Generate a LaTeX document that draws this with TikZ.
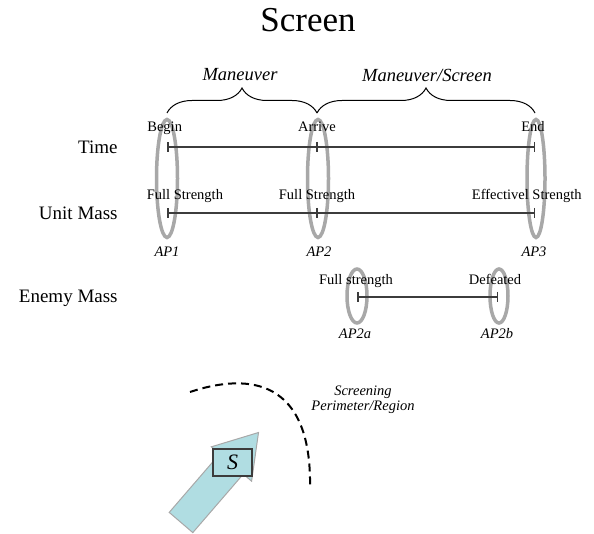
\documentclass[tikz,border=0pt]{standalone}
\usepackage{fontspec}
\setmainfont{Liberation Serif}
\usetikzlibrary{arrows.meta,decorations.pathreplacing}

\definecolor{apgray}{RGB}{168,168,168}
\definecolor{linegray}{RGB}{60,60,60}
\definecolor{arrowcyan}{RGB}{176,221,226}

\tikzset{
  every picture/.style={line width=0.75pt},
  rowlabel/.style={anchor=east,inner sep=0pt,font=\fontsize{19}{21}\selectfont},
  eventlabel/.style={anchor=base,inner sep=0pt,font=\fontsize{14.5}{16}\selectfont},
  aplabel/.style={anchor=base,inner sep=0pt,font=\fontsize{14.5}{16}\selectfont\itshape},
  phaselabel/.style={inner sep=0pt,font=\fontsize{18.5}{20}\selectfont\itshape},
  timeline/.style={line width=1.5pt,draw=linegray,{Bar[width=10pt,line width=1.5pt]}-{Bar[width=10pt,line width=1.5pt]}},
  midtick/.style={line width=1.5pt,draw=linegray},
  apring/.style={draw=apgray,line width=3.5pt},
  phasebrace/.style={decorate,decoration={brace,amplitude=25pt},line width=1pt},
}

\begin{document}
\begin{tikzpicture}[x=1pt,y=1pt,yscale=-1]
\useasboundingbox (0,0) rectangle (594,534);

% Title
\node (title) at (308,20) {\fontsize{35}{38}\selectfont Screen};

% Row labels
\node[rowlabel] (time) at (118,147) {Time};
\node[rowlabel] (unitmass) at (118,213) {Unit Mass};
\node[rowlabel] (enemymass) at (118,298) {Enemy Mass};

% Points on the time line and unit mass line
\coordinate (t1) at (167,147);
\coordinate (t2) at (317,147);
\coordinate (t3) at (535,147);
\coordinate (u1) at (167,213);
\coordinate (u2) at (317,213);
\coordinate (u3) at (535,213);
\coordinate (e1) at (357,297);
\coordinate (e2) at (498,297);

% Aimpoint rings
\draw[apring] (167,178.5) ellipse (10.5 and 59);
\draw[apring] (318,178.5) ellipse (10.5 and 59);
\draw[apring] (536,178.5) ellipse (9 and 59);
\draw[apring] (357,296) ellipse (10 and 27);
\draw[apring] (499,296) ellipse (9 and 27);

% Lines
\draw[timeline] (t1) -- (t3);
\draw[midtick] ([yshift=-5pt]t2) -- ([yshift=5pt]t2);
\draw[timeline] (u1) -- (u3);
\draw[midtick] ([yshift=-5pt]u2) -- ([yshift=5pt]u2);
\draw[timeline] (e1) -- (e2);

% Braces
\coordinate (b1) at (167,113);
\coordinate (b2) at (317,113);
\coordinate (b3) at (535,113);
\draw[phasebrace] (b1) -- (b2);
\draw[phasebrace] (b2) -- (b3);
\node[phaselabel] (maneuver) at (240,75) {Maneuver};
\node[phaselabel] (maneuverscreen) at (427,75) {Maneuver/Screen};

% Event labels
\node[eventlabel,anchor=base west] (begin) at (147,132) {Begin};
\node[eventlabel] (arrive) at (317,132) {Arrive};
\node[eventlabel] (end) at (533,132) {End};
\node[eventlabel,anchor=base west] (full1) at (146.5,200) {Full Strength};
\node[eventlabel] (full2) at (317,200) {Full Strength};
\node[eventlabel,anchor=base east] (effective) at (582,200) {Effectivel Strength};
\node[eventlabel] (fullenemy) at (356,285) {Full strength};
\node[eventlabel] (defeated) at (495,285) {Defeated};

% Aimpoint labels
\node[aplabel] (ap1) at (167,257) {AP1};
\node[aplabel] (ap2) at (319,257) {AP2};
\node[aplabel] (ap3) at (534,257) {AP3};
\node[aplabel] (ap2a) at (355,338) {AP2a};
\node[aplabel] (ap2b) at (497,338) {AP2b};

% Screening perimeter
\draw[line width=2pt,dash pattern=on 8pt off 5pt] (190,392) .. controls (250,372) and (312,380) .. (310,488);
\node[font=\fontsize{14.5}{15}\selectfont\itshape,align=center,inner sep=0pt] (perimeter) at (363,399.5) {Screening\\Perimeter/Region};

% Screen force arrow
\draw[fill=arrowcyan,draw=apgray,line width=1pt] (169.2,512.4) -- (219.7,453.9) -- (211.4,446.8) -- (258.5,432.5) -- (251.6,481.2) -- (243.3,474.1) -- (192.8,532.6) -- cycle;
\node[draw=linegray,line width=1.5pt,fill=arrowcyan,minimum width=39pt,minimum height=27pt,inner sep=0pt,font=\fontsize{22}{24}\selectfont\itshape] (s) at (232.5,462.5) {S};

\end{tikzpicture}
\end{document}
